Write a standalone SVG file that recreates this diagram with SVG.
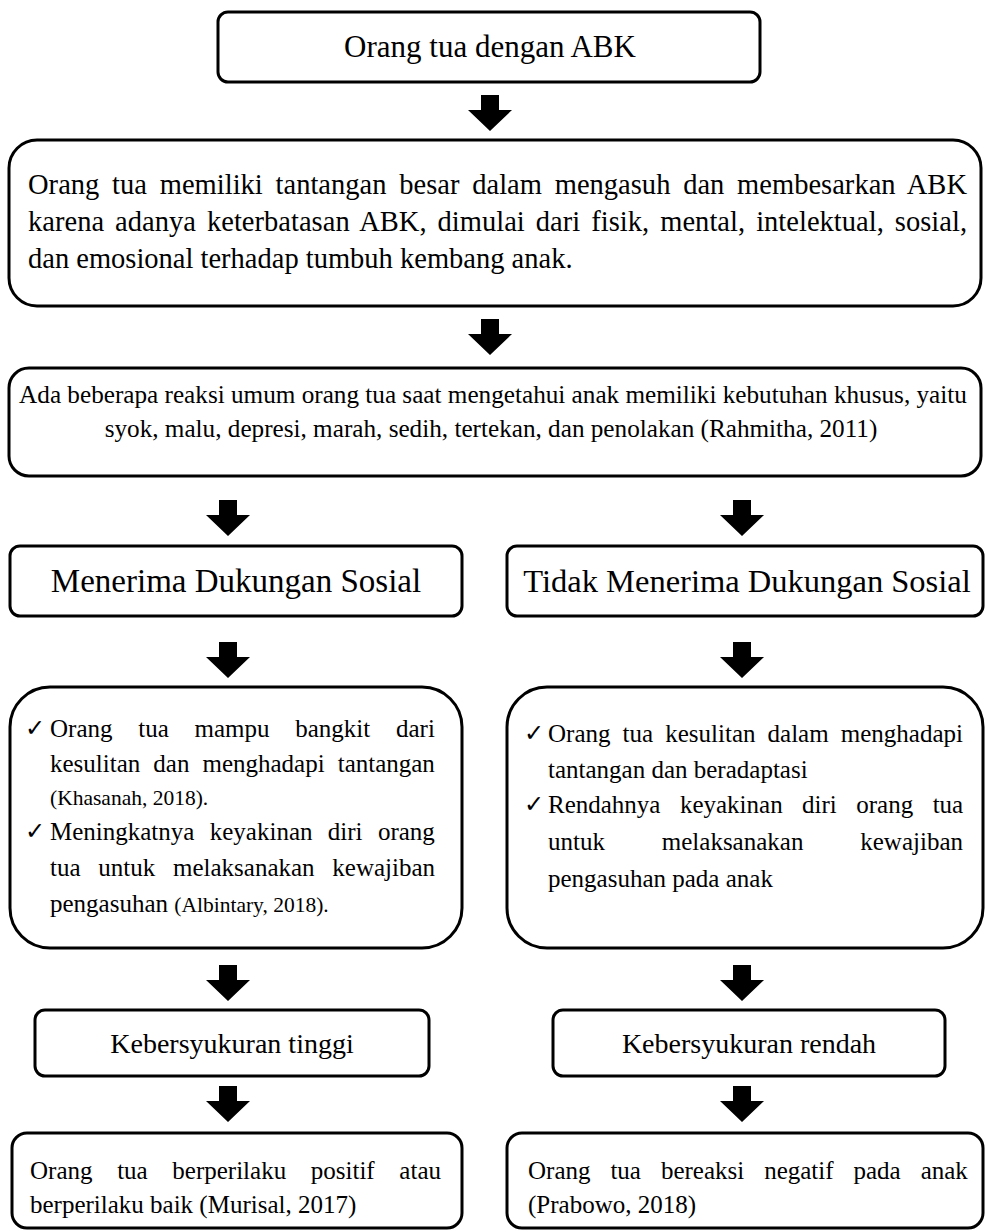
<svg xmlns="http://www.w3.org/2000/svg" width="985" height="1232" viewBox="0 0 985 1232">
<style>
.box{fill:#fff;stroke:#000;stroke-width:3}
.t{font-family:"Liberation Serif","Times New Roman",serif;fill:#000}
.m{text-anchor:middle}
.ck{font-family:"DejaVu Sans",sans-serif;font-size:24px;fill:#000}
.arr{fill:#000}
</style>
<defs>
<path id="arrow" class="arr" d="M-9,0 H9 V15 H22 L0,36 L-22,15 H-9 Z"/>
</defs>
<rect width="985" height="1232" fill="#fff"/>

<g id="connectors">
<use href="#arrow" x="490" y="95"/>
<use href="#arrow" x="490" y="319"/>
<use href="#arrow" x="228" y="500"/>
<use href="#arrow" x="742" y="500"/>
<use href="#arrow" x="228" y="642"/>
<use href="#arrow" x="742" y="642"/>
<use href="#arrow" x="228" y="965"/>
<use href="#arrow" x="742" y="965"/>
<use href="#arrow" x="228" y="1086"/>
<use href="#arrow" x="742" y="1086"/>
</g>

<g id="n-orang-tua">
<rect class="box" x="218" y="12" width="542" height="70" rx="10"/>
<text class="t m" x="490" y="57" font-size="31">Orang tua dengan ABK</text>
</g>

<g id="n-tantangan">
<rect class="box" x="9" y="140" width="972" height="166" rx="28"/>
<text class="t" x="28" y="194" font-size="28.5" word-spacing="5.6" textLength="939" lengthAdjust="spacing">Orang tua memiliki tantangan besar dalam mengasuh dan membesarkan ABK</text>
<text class="t" x="28" y="231" font-size="28.5" word-spacing="3.9" textLength="939" lengthAdjust="spacing">karena adanya keterbatasan ABK, dimulai dari fisik, mental, intelektual, sosial,</text>
<text class="t" x="28" y="268" font-size="28.5">dan emosional terhadap tumbuh kembang anak.</text>
</g>

<g id="n-reaksi">
<rect class="box" x="9" y="368" width="972" height="108" rx="20"/>
<text class="t m" x="493" y="403" font-size="25.2">Ada beberapa reaksi umum orang tua saat mengetahui anak memiliki kebutuhan khusus, yaitu</text>
<text class="t m" x="491" y="437" font-size="25.2">syok, malu, depresi, marah, sedih, tertekan, dan penolakan (Rahmitha, 2011)</text>
</g>

<g id="n-menerima">
<rect class="box" x="10" y="546" width="452" height="70" rx="10"/>
<text class="t m" x="236" y="592" font-size="33">Menerima Dukungan Sosial</text>
</g>

<g id="n-tidak-menerima">
<rect class="box" x="507" y="546" width="476" height="70" rx="10"/>
<text class="t m" x="747" y="592" font-size="32.5">Tidak Menerima Dukungan Sosial</text>
</g>

<g id="n-dampak-positif">
<rect class="box" x="10" y="687" width="452" height="261" rx="40"/>
<text class="ck" x="25" y="736">✓</text>
<text class="t" x="50" y="737" font-size="25" word-spacing="19.5">Orang tua mampu bangkit dari</text>
<text class="t" x="50" y="772" font-size="25" word-spacing="6.8">kesulitan dan menghadapi tantangan</text>
<text class="t" x="50" y="805" font-size="21.5">(Khasanah, 2018).</text>
<text class="ck" x="25" y="839">✓</text>
<text class="t" x="50" y="840" font-size="25" word-spacing="9.1">Meningkatnya keyakinan diri orang</text>
<text class="t" x="50" y="876" font-size="25" word-spacing="11.5">tua untuk melaksanakan kewajiban</text>
<text class="t" x="50" y="912" font-size="25">pengasuhan <tspan font-size="21.5">(Albintary, 2018).</tspan></text>
</g>

<g id="n-dampak-negatif">
<rect class="box" x="507" y="687" width="476" height="261" rx="40"/>
<text class="ck" x="524" y="741">✓</text>
<text class="t" x="548" y="742" font-size="25" word-spacing="5.85">Orang tua kesulitan dalam menghadapi</text>
<text class="t" x="548" y="778" font-size="25">tantangan dan beradaptasi</text>
<text class="ck" x="524" y="812">✓</text>
<text class="t" x="548" y="813" font-size="25" word-spacing="13.2">Rendahnya keyakinan diri orang tua</text>
<text class="t" x="548" y="850" font-size="25" word-spacing="50.6">untuk melaksanakan kewajiban</text>
<text class="t" x="548" y="887" font-size="25">pengasuhan pada anak</text>
</g>

<g id="n-syukur-tinggi">
<rect class="box" x="35" y="1010" width="394" height="66" rx="10"/>
<text class="t m" x="232" y="1053" font-size="28">Kebersyukuran tinggi</text>
</g>

<g id="n-syukur-rendah">
<rect class="box" x="553" y="1010" width="392" height="66" rx="10"/>
<text class="t m" x="749" y="1053" font-size="28">Kebersyukuran rendah</text>
</g>

<g id="n-perilaku-positif">
<rect class="box" x="12" y="1133" width="450" height="95" rx="15"/>
<text class="t" x="30" y="1179" font-size="25" word-spacing="18.4">Orang tua berperilaku positif atau</text>
<text class="t" x="30" y="1213" font-size="25">berperilaku baik (Murisal, 2017)</text>
</g>

<g id="n-reaksi-negatif">
<rect class="box" x="507" y="1133" width="476" height="95" rx="15"/>
<text class="t" x="528" y="1179" font-size="25" word-spacing="13.7">Orang tua bereaksi negatif pada anak</text>
<text class="t" x="528" y="1213" font-size="25">(Prabowo, 2018)</text>
</g>
</svg>
